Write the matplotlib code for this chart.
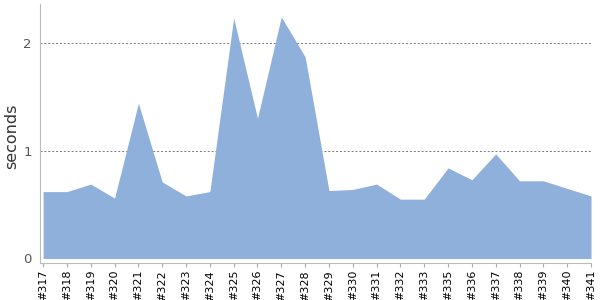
import matplotlib
matplotlib.use("Agg")
import matplotlib.pyplot as plt

builds = ["#317", "#318", "#319", "#320", "#321", "#322", "#323", "#324",
          "#325", "#326", "#327", "#328", "#329", "#330", "#331", "#332",
          "#333", "#335", "#336", "#337", "#338", "#339", "#340", "#341"]
seconds = [0.62, 0.62, 0.69, 0.56, 1.44, 0.71, 0.58, 0.62,
           2.23, 1.30, 2.24, 1.87, 0.63, 0.64, 0.69, 0.55,
           0.55, 0.84, 0.73, 0.97, 0.72, 0.72, 0.65, 0.58]

fig = plt.figure(figsize=(6, 3), dpi=100)
ax = fig.add_axes([40 / 600, 37 / 300, 551 / 600, 259 / 300])

x = list(range(len(builds)))
ax.fill_between(x, 0, seconds, color="#8eb0da", linewidth=0)

ax.set_xlim(-0.13, len(builds) - 1)
ax.set_ylim(-0.042, 2.36)
ax.set_yticks([0, 1, 2])
ax.set_xticks(x)
ax.set_xticklabels(builds, rotation=90, fontsize=8)
ax.tick_params(axis="x", length=3, color="#aaaaaa", pad=2)
ax.tick_params(axis="y", length=0, labelcolor="#555555", labelsize=9.5, pad=6)

for y in [1, 2]:
    ax.axhline(y, color="#777777", linestyle=(0, (2, 2)), linewidth=0.7, zorder=0)

for side in ["top", "right"]:
    ax.spines[side].set_visible(False)
for side in ["left", "bottom"]:
    ax.spines[side].set_color("#bbbbbb")

ax.set_ylabel("seconds", fontsize=11.5, color="#333333")
ax.yaxis.set_label_coords(-0.038, 0.49)

fig.savefig("out.png", dpi=100)
